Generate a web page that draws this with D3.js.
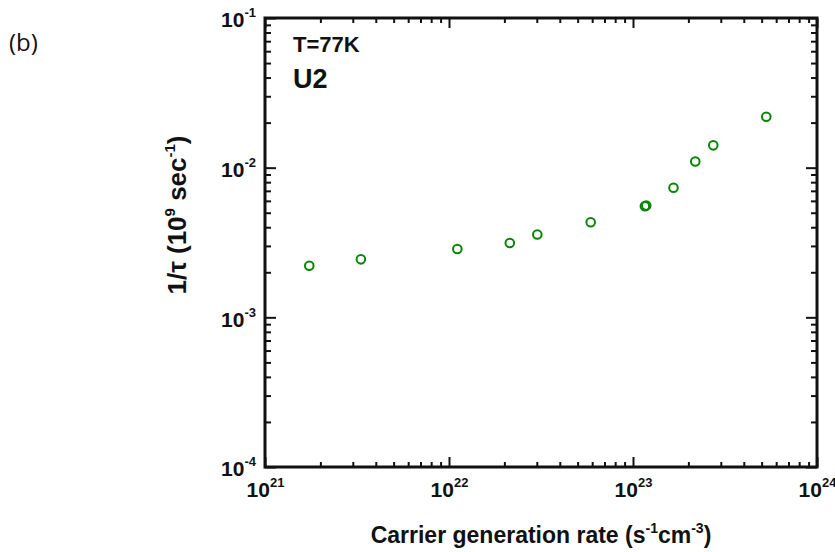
<!DOCTYPE html>
<html>
<head>
<meta charset="utf-8">
<script src="https://cdnjs.cloudflare.com/ajax/libs/d3/7.8.5/d3.min.js"></script>
<style>
    body { margin: 0; background: #fff; }
    #chart { width: 835px; height: 552px; }
    text { font-family: "Liberation Sans", Arial, sans-serif; font-weight: bold; fill: #111; }
    .panel { font-family: "Open Sans", "Noto Sans", sans-serif; font-weight: normal; }
</style>
</head>
<body>
<div id="chart"></div>
<script>
// carrier generation rate (s^-1 cm^-3) and 1/tau (1e9 s^-1)
let genRate = [1.74e21, 3.32e21, 1.11e22, 2.14e22, 3.02e22, 5.89e22, 1.16e23, 1.18e23, 1.66e23, 2.18e23, 2.73e23, 5.30e23];
let invTau  = [2.21e-3, 2.44e-3, 2.86e-3, 3.14e-3, 3.58e-3, 4.32e-3, 5.52e-3, 5.58e-3, 7.35e-3, 1.10e-2, 1.41e-2, 2.19e-2];

let xDecades = [21, 22, 23, 24];
let yDecades = [-4, -3, -2, -1];

let notes = ["T=77K", "U2"];

class LogScatter {
    constructor(parentElement) {
        this.parentElement = parentElement;
        this.initVis();
    }

    initVis() {
        let vis = this;

        vis.margin = {top: 18, right: 18, bottom: 85, left: 265};
        vis.width = 835 - vis.margin.left - vis.margin.right;
        vis.height = 552 - vis.margin.top - vis.margin.bottom;

        vis.root = d3.select("#" + vis.parentElement).append("svg")
            .attr("width", 835)
            .attr("height", 552);

        vis.svg = vis.root.append("g")
            .attr("transform", `translate(${vis.margin.left}, ${vis.margin.top})`);

        vis.x = d3.scaleLog()
            .domain([Math.pow(10, xDecades[0]), Math.pow(10, xDecades[xDecades.length - 1])])
            .range([0, vis.width]);

        vis.y = d3.scaleLog()
            .domain([Math.pow(10, yDecades[0]), Math.pow(10, yDecades[yDecades.length - 1])])
            .range([vis.height, 0]);

        // major / minor tick values
        let xMajor = xDecades.map(e => Math.pow(10, e));
        let yMajor = yDecades.map(e => Math.pow(10, e));
        let xMinor = [], yMinor = [];
        xDecades.slice(0, -1).forEach(e => d3.range(2, 10).forEach(m => xMinor.push(m * Math.pow(10, e))));
        yDecades.slice(0, -1).forEach(e => d3.range(2, 10).forEach(m => yMinor.push(m * Math.pow(10, e))));

        let supLabel = function(sel, decades) {
            sel.each(function(d, i) {
                let t = d3.select(this);
                t.text(null);
                t.append("tspan").text("10");
                t.append("tspan")
                    .attr("dy", -10)
                    .style("font-size", "13px")
                    .text(decades[i]);
            });
        };

        // bottom
        vis.svg.append("g").attr("class", "axis")
            .attr("transform", `translate(0, ${vis.height})`)
            .call(d3.axisBottom(vis.x).tickValues(xMinor).tickSize(-5).tickFormat(""));
        let xAx = vis.svg.append("g").attr("class", "axis")
            .attr("transform", `translate(0, ${vis.height})`)
            .call(d3.axisBottom(vis.x).tickValues(xMajor).tickSize(-10).tickPadding(15).tickFormat(d => d));
        xAx.selectAll("text").call(supLabel, xDecades);

        // top
        vis.svg.append("g").attr("class", "axis")
            .call(d3.axisTop(vis.x).tickValues(xMinor).tickSize(-5).tickFormat(""));
        vis.svg.append("g").attr("class", "axis")
            .call(d3.axisTop(vis.x).tickValues(xMajor).tickSize(-10).tickFormat(""));

        // left
        vis.svg.append("g").attr("class", "axis")
            .call(d3.axisLeft(vis.y).tickValues(yMinor).tickSize(-6).tickFormat(""));
        let yAx = vis.svg.append("g").attr("class", "axis")
            .call(d3.axisLeft(vis.y).tickValues(yMajor).tickSize(-11).tickPadding(9).tickFormat(d => d));
        yAx.selectAll("text").attr("dy", "0.42em").call(supLabel, yDecades);

        // right
        vis.svg.append("g").attr("class", "axis")
            .attr("transform", `translate(${vis.width}, 0)`)
            .call(d3.axisRight(vis.y).tickValues(yMinor).tickSize(-6).tickFormat(""));
        vis.svg.append("g").attr("class", "axis")
            .attr("transform", `translate(${vis.width}, 0)`)
            .call(d3.axisRight(vis.y).tickValues(yMajor).tickSize(-11).tickFormat(""));

        vis.svg.selectAll(".axis .domain").remove();
        vis.svg.selectAll(".axis line").attr("stroke", "#111").attr("stroke-width", 2);
        vis.svg.selectAll(".axis text")
            .style("font-family", "'Liberation Sans', Arial, sans-serif")
            .style("font-weight", "bold")
            .style("font-size", "21px")
            .attr("fill", "#111");

        // frame
        vis.svg.append("rect")
            .attr("width", vis.width)
            .attr("height", vis.height)
            .attr("fill", "none")
            .attr("stroke", "#111")
            .attr("stroke-width", 3);

        // axis titles
        let xt = vis.svg.append("text")
            .attr("x", vis.width / 2)
            .attr("y", vis.height + 76)
            .attr("text-anchor", "middle")
            .style("font-size", "23px");
        xt.append("tspan").text("Carrier generation rate (s");
        xt.append("tspan").attr("dy", -10).style("font-size", "14px").text("-1");
        xt.append("tspan").attr("dy", 10).text("cm");
        xt.append("tspan").attr("dy", -10).style("font-size", "14px").text("-3");
        xt.append("tspan").attr("dy", 10).text(")");

        let yt = vis.svg.append("text")
            .attr("transform", `translate(-79, 197) rotate(-90)`)
            .attr("text-anchor", "middle")
            .style("font-size", "26px");
        yt.append("tspan").text("1/\u03c4 (10");
        yt.append("tspan").attr("dy", -11).style("font-size", "15px").text("9");
        yt.append("tspan").attr("dy", 11).text(" sec");
        yt.append("tspan").attr("dy", -11).style("font-size", "15px").text("-1");
        yt.append("tspan").attr("dy", 11).text(")");

        // notes
        vis.svg.selectAll(".note")
            .data(notes)
            .enter().append("text")
            .attr("class", "note")
            .attr("x", 28)
            .attr("y", (d, i) => i === 0 ? 34 : 70)
            .style("font-size", (d, i) => i === 0 ? "22px" : "27px")
            .text(d => d);

        vis.root.append("text")
            .attr("class", "panel")
            .attr("x", 9)
            .attr("y", 51)
            .style("font-size", "24px")
            .text("(b)");

        vis.updateVis();
    }

    updateVis() {
        let vis = this;
        let pts = genRate.map((g, i) => ({g: g, t: invTau[i]}));

        vis.svg.selectAll(".pt")
            .data(pts)
            .enter().append("circle")
            .attr("class", "pt")
            .attr("cx", d => vis.x(d.g))
            .attr("cy", d => vis.y(d.t))
            .attr("r", 4.3)
            .attr("fill", "none")
            .attr("stroke", "#078507")
            .attr("stroke-width", 2);
    }
}

new LogScatter("chart");
</script>
</body>
</html>
